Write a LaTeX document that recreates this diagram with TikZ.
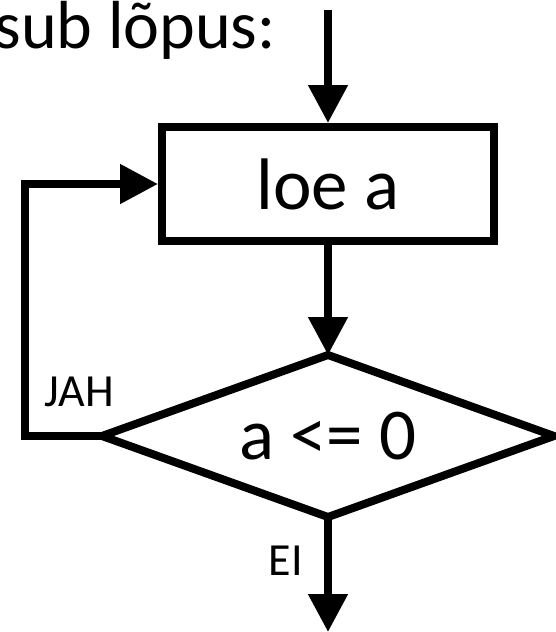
\documentclass[tikz,border=0pt]{standalone}
\usepackage{fontspec}
\setmainfont{Carlito}
\usetikzlibrary{arrows.meta,shapes.geometric}
\tikzset{
  x=1pt, y=-1pt,
  ln/.style={line width=8pt, black},
  arr/.style={ln, -{Triangle[length=38pt,width=38pt]}},
  box/.style={draw, line width=8pt, minimum width=332pt, minimum height=114pt, inner sep=0pt},
  dia/.style={draw, diamond, shape aspect=2.79, line width=8pt, minimum width=452pt, minimum height=162pt, inner sep=0pt, outer sep=0pt},
  big/.style={font=\fontsize{73}{80}\selectfont},
  lbl/.style={font=\fontsize{46}{50}\selectfont, inner sep=0pt},
}
\begin{document}
\begin{tikzpicture}
\useasboundingbox (0,0) rectangle (555,632);
\node[lbl, font=\fontsize{68}{74}\selectfont, anchor=base east] (title) at (276,48) {sub lõpus:};
\coordinate (top) at (328,10);
\coordinate (bot) at (328,632);
\coordinate (loopx) at (25,0);
\node[box, big] (loe) at (328,184) {loe a};
\node[dia, big] (cond) at (328,436) {a <= 0};
\draw[arr] (top) -- (loe.north);
\draw[arr] (loe.south) -- (cond.north);
\draw[arr] (cond.south) -- (bot);
\draw[arr] (cond.west) -- (cond.west -| loopx) |- (loe.west);
\node[lbl, anchor=base east] (jah) at (114,406) {JAH};
\node[lbl, anchor=base east] (ei) at (303,575) {EI};
\end{tikzpicture}
\end{document}
